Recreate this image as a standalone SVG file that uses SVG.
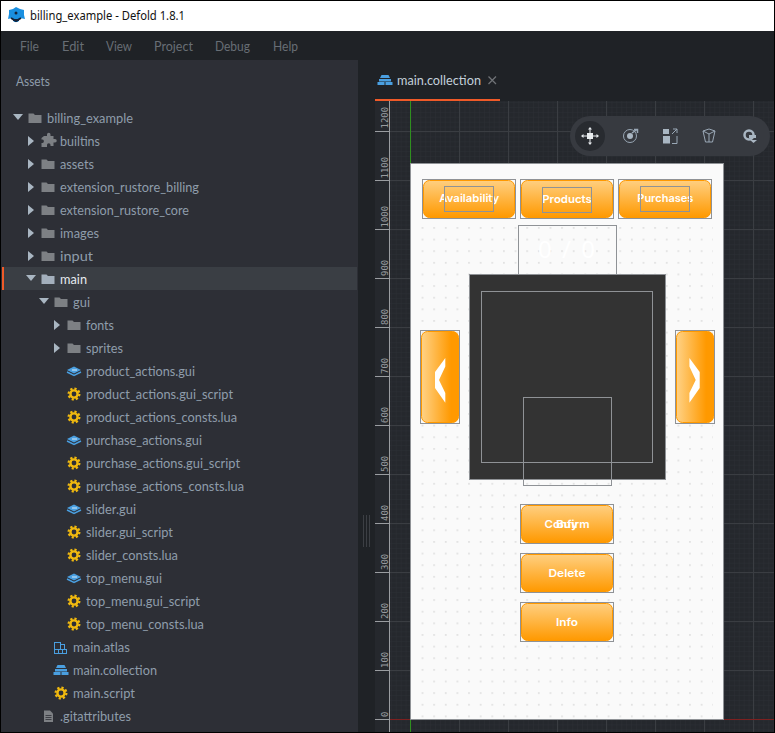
<svg xmlns="http://www.w3.org/2000/svg" xmlns:xlink="http://www.w3.org/1999/xlink" width="775" height="733" viewBox="0 0 775 733">
<style>
.t{font-family:"Lato","Noto Sans",sans-serif;font-size:13px;fill:#8f9dab}
.m{font-family:"Lato","Noto Sans",sans-serif;font-size:13px;fill:#686e75}
.r{font-family:"DejaVu Sans Mono","Liberation Mono",monospace;font-size:9px;fill:#989b9f}
.b{font-family:"Inter","Noto Sans",sans-serif;font-size:11px;font-weight:600;fill:#fff;text-anchor:middle}
.o{fill:none;stroke:#8f9296;stroke-width:1}
.h{fill:url(#gv);stroke:#ff9900;stroke-width:1}
.mj{stroke:#3a3d42;stroke-width:1}
.tk{stroke:#9a9da1;stroke-width:1}
.tr{fill:#a9b6c2}
.ic{fill:#a9b6c2}
</style>
<defs>
<linearGradient id="gv" x1="0" y1="0" x2="0" y2="1"><stop offset="0" stop-color="#ffcf80"/><stop offset="1" stop-color="#ff9900"/></linearGradient>
<linearGradient id="gh" x1="0" y1="0" x2="1" y2="0"><stop offset="0" stop-color="#ffd286"/><stop offset="0.8" stop-color="#ff9900"/><stop offset="1" stop-color="#ff9900"/></linearGradient>
<pattern id="minor" x="410.5" y="719.5" width="4.9" height="4.9" patternUnits="userSpaceOnUse"><path d="M0 0H4.9M0 0V4.9" stroke="#2c2f35" stroke-width="1" fill="none"/></pattern>
<pattern id="dots" x="421.6" y="227" width="11.63" height="11.63" patternUnits="userSpaceOnUse"><rect x="0.2" y="0.2" width="1.4" height="1.4" fill="#d2d2d2"/></pattern>
<g id="fold"><path d="M-6.5 -4.5H-1.5L0 -3H6.5V5H-6.5Z" fill="#7d8084"/></g>
<g id="foldOn"><path d="M-6.5 -4.5H-1.5L0 -3H6.5V5H-6.5Z" fill="#a3afbc"/></g>
<path id="tri" d="M-3 -5L3 0L-3 5Z" class="tr"/>
<path id="triD" d="M-5 -3H5L0 3Z" class="tr"/>
<g id="gear"><circle r="3.6" fill="none" stroke="#f0b90f" stroke-width="2.4"/><circle r="5.4" fill="none" stroke="#f0b90f" stroke-width="2.2" stroke-dasharray="2.2 2"/></g>
<g id="guiI"><path d="M0 -4.5L7 -1L0 2.5L-7 -1Z" fill="#4a9fe0"/><path d="M-7 1L0 4.5L7 1" fill="none" stroke="#4a9fe0" stroke-width="1.4"/><path d="M-2 -1H3" stroke="#fff" stroke-width="0.8"/></g>
<g id="coll" fill="#4a9fe0"><path d="M-3.5 -5H3.5L5 -2H-5Z"/><rect x="-6" y="-1" width="12" height="2.5"/><rect x="-7.5" y="2" width="7" height="3"/><rect x="0.5" y="2" width="7" height="3"/></g>
<g id="btnH"><rect x="1.5" y="1.5" width="91" height="37" rx="6" class="h"/></g>
</defs>
<rect width="775" height="733" fill="#000"/>
<rect x="1" y="1" width="773" height="30" fill="#fff"/>
<rect x="1" y="31" width="773" height="29" fill="#1f2226"/>
<rect x="1" y="60" width="357" height="672" fill="#2d2f36"/>
<rect x="358" y="60" width="416" height="672" fill="#1f2226"/>
<rect x="375" y="101" width="399" height="631" fill="#25282d"/>
<rect x="389" y="101" width="385" height="631" fill="url(#minor)"/>
<rect x="363" y="515" width="1" height="32" fill="#3c3f44"/><rect x="366" y="515" width="1" height="32" fill="#3c3f44"/><rect x="369" y="515" width="1" height="32" fill="#3c3f44"/>

<g id="logo"><path d="M16 7L20 9L24 10L24 15L25 19L20 18L18 22L14 22L12 18L8 19L9 14L9 10L13 9Z" fill="#1a8fe0"/><path d="M11 18L16 21L21 18M13 20L19 20" stroke="#14233a" stroke-width="2" fill="none"/><circle cx="16" cy="13" r="1.5" fill="#14233a"/></g>
<text x="30" y="20" font-family="Noto Sans,sans-serif" font-size="12" fill="#111" textLength="155" lengthAdjust="spacingAndGlyphs">billing_example - Defold 1.8.1</text>

<g id="menu">
<text class="m" x="20" y="51" textLength="19" lengthAdjust="spacingAndGlyphs">File</text>
<text class="m" x="62" y="51" textLength="22" lengthAdjust="spacingAndGlyphs">Edit</text>
<text class="m" x="106" y="51" textLength="26" lengthAdjust="spacingAndGlyphs">View</text>
<text class="m" x="154" y="51" textLength="39" lengthAdjust="spacingAndGlyphs">Project</text>
<text class="m" x="215" y="51" textLength="35" lengthAdjust="spacingAndGlyphs">Debug</text>
<text class="m" x="273" y="51" textLength="25" lengthAdjust="spacingAndGlyphs">Help</text>
</g>

<g id="assets">
<text class="t" x="16" y="86" textLength="34" lengthAdjust="spacingAndGlyphs">Assets</text>
<rect x="2" y="267" width="355" height="23" fill="#3a3e44"/><rect x="2" y="267" width="2" height="23" fill="#f05a28"/>
<use href="#triD" x="18" y="117"/><use href="#fold" x="35" y="118"/>
<text class="t" x="47" y="123" textLength="86" lengthAdjust="spacingAndGlyphs">billing_example</text>
<use href="#tri" x="31" y="141"/>
<path d="M44 136h3v-1.500a1.700 1.700 0 0 1 3.500 0V136h3v3h1.500a1.700 1.700 0 0 1 0 3.500H53.500v3.500h-3v-1a1.700 1.700 0 0 0 -3.500 0v2h-5.500v-4h1a1.800 1.800 0 0 0 0 -3.500h-1V138Z" fill="#7d8084"/>
<text class="t" x="60" y="146" textLength="40" lengthAdjust="spacingAndGlyphs">builtins</text>
<use href="#tri" x="31" y="164"/><use href="#fold" x="48" y="164"/>
<text class="t" x="60" y="169" textLength="34" lengthAdjust="spacingAndGlyphs">assets</text>
<use href="#tri" x="31" y="187"/><use href="#fold" x="48" y="187"/>
<text class="t" x="60" y="192" textLength="139" lengthAdjust="spacingAndGlyphs">extension_rustore_billing</text>
<use href="#tri" x="31" y="210"/><use href="#fold" x="48" y="210"/>
<text class="t" x="60" y="215" textLength="129" lengthAdjust="spacingAndGlyphs">extension_rustore_core</text>
<use href="#tri" x="31" y="233"/><use href="#fold" x="48" y="233"/>
<text class="t" x="60" y="238" textLength="39" lengthAdjust="spacingAndGlyphs">images</text>
<use href="#tri" x="31" y="256"/><use href="#fold" x="48" y="256"/>
<text class="t" x="60" y="261" textLength="33" lengthAdjust="spacingAndGlyphs">input</text>
<use href="#triD" x="31" y="278"/><use href="#foldOn" x="48" y="279"/>
<text class="t" x="60" y="284" textLength="27" lengthAdjust="spacingAndGlyphs" style="fill:#e6ebef">main</text>
<use href="#triD" x="44" y="301"/><use href="#fold" x="61" y="302"/>
<text class="t" x="73" y="307" textLength="17" lengthAdjust="spacingAndGlyphs">gui</text>
<use href="#tri" x="57" y="325"/><use href="#fold" x="74" y="325"/>
<text class="t" x="86" y="330" textLength="28" lengthAdjust="spacingAndGlyphs">fonts</text>
<use href="#tri" x="57" y="348"/><use href="#fold" x="74" y="348"/>
<text class="t" x="86" y="353" textLength="37" lengthAdjust="spacingAndGlyphs">sprites</text>
<use href="#guiI" x="74" y="371"/>
<text class="t" x="86" y="376" textLength="109" lengthAdjust="spacingAndGlyphs">product_actions.gui</text>
<use href="#gear" x="74" y="394"/>
<text class="t" x="86" y="399" textLength="147" lengthAdjust="spacingAndGlyphs">product_actions.gui_script</text>
<use href="#gear" x="74" y="417"/>
<text class="t" x="86" y="422" textLength="151" lengthAdjust="spacingAndGlyphs">product_actions_consts.lua</text>
<use href="#guiI" x="74" y="440"/>
<text class="t" x="86" y="445" textLength="116" lengthAdjust="spacingAndGlyphs">purchase_actions.gui</text>
<use href="#gear" x="74" y="463"/>
<text class="t" x="86" y="468" textLength="154" lengthAdjust="spacingAndGlyphs">purchase_actions.gui_script</text>
<use href="#gear" x="74" y="486"/>
<text class="t" x="86" y="491" textLength="158" lengthAdjust="spacingAndGlyphs">purchase_actions_consts.lua</text>
<use href="#guiI" x="74" y="509"/>
<text class="t" x="86" y="514" textLength="50" lengthAdjust="spacingAndGlyphs">slider.gui</text>
<use href="#gear" x="74" y="532"/>
<text class="t" x="86" y="537" textLength="87" lengthAdjust="spacingAndGlyphs">slider.gui_script</text>
<use href="#gear" x="74" y="555"/>
<text class="t" x="86" y="560" textLength="92" lengthAdjust="spacingAndGlyphs">slider_consts.lua</text>
<use href="#guiI" x="74" y="578"/>
<text class="t" x="86" y="583" textLength="76" lengthAdjust="spacingAndGlyphs">top_menu.gui</text>
<use href="#gear" x="74" y="601"/>
<text class="t" x="86" y="606" textLength="114" lengthAdjust="spacingAndGlyphs">top_menu.gui_script</text>
<use href="#gear" x="74" y="624"/>
<text class="t" x="86" y="629" textLength="118" lengthAdjust="spacingAndGlyphs">top_menu_consts.lua</text>
<g fill="none" stroke="#4a9fe0" stroke-width="1"><rect x="54.500" y="642.500" width="6" height="7"/><rect x="60.500" y="644.500" width="4" height="5"/><rect x="54.500" y="649.500" width="4" height="4"/><rect x="58.500" y="649.500" width="4" height="4"/><rect x="62.500" y="649.500" width="4" height="4"/></g>
<text class="t" x="73" y="652" textLength="57" lengthAdjust="spacingAndGlyphs">main.atlas</text>
<use href="#coll" x="61" y="670"/>
<text class="t" x="73" y="675" textLength="84" lengthAdjust="spacingAndGlyphs">main.collection</text>
<use href="#gear" x="61" y="693"/>
<text class="t" x="73" y="698" textLength="62" lengthAdjust="spacingAndGlyphs">main.script</text>
<path d="M44 710.500h6l3 3v8.500h-9Z" fill="#7d8084"/><path d="M45.500 715.500h6M45.500 717.500h6M45.500 719.500h6" stroke="#2d2f36" stroke-width="0.800"/>
<text class="t" x="60" y="721" textLength="71" lengthAdjust="spacingAndGlyphs">.gitattributes</text>
</g>

<g id="tab">
<use href="#coll" x="385" y="80"/>
<text class="t" x="397" y="85" textLength="84" lengthAdjust="spacingAndGlyphs" style="fill:#c3d0da">main.collection</text>
<path d="M488.500 76.500L496 84M496 76.500L488.500 84" stroke="#6f7276" stroke-width="1.300"/>
<rect x="375" y="99" width="125" height="2" fill="#f05a28"/>
</g>

<g id="grid">
<path class="mj" d="M459.500 101V732M508.500 101V732M557.500 101V732M606.500 101V732M655.500 101V732M704.500 101V732M753.500 101V732M389 131.500H774M389 180.500H774M389 229.500H774M389 278.500H774M389 327.500H774M389 376.500H774M389 425.500H774M389 474.500H774M389 523.500H774M389 572.500H774M389 621.500H774M389 670.500H774"/>
<path d="M410.500 101V732" stroke="#2f8f1f" stroke-width="1"/>
<path d="M389 719.500H774" stroke="#7d2020" stroke-width="1"/>
</g>

<g id="ruler">
<path class="tk" d="M389.500 101V732M375 131.500H389M375 180.500H389M375 229.500H389M375 278.500H389M375 327.500H389M375 376.500H389M375 425.500H389M375 474.500H389M375 523.500H389M375 572.500H389M375 621.500H389M375 670.500H389M375 719.500H389"/>
<text class="r" transform="translate(387.500 128.500) rotate(-90)">1200</text>
<text class="r" transform="translate(387.500 178.500) rotate(-90)">1100</text>
<text class="r" transform="translate(387.500 227.500) rotate(-90)">1000</text>
<text class="r" transform="translate(387.500 276) rotate(-90)">900</text>
<text class="r" transform="translate(387.500 325) rotate(-90)">800</text>
<text class="r" transform="translate(387.500 374) rotate(-90)">700</text>
<text class="r" transform="translate(387.500 423) rotate(-90)">600</text>
<text class="r" transform="translate(387.500 472) rotate(-90)">500</text>
<text class="r" transform="translate(387.500 521) rotate(-90)">400</text>
<text class="r" transform="translate(387.500 570) rotate(-90)">300</text>
<text class="r" transform="translate(387.500 619) rotate(-90)">200</text>
<text class="r" transform="translate(387.500 668) rotate(-90)">100</text>
<text class="r" transform="translate(387.500 717) rotate(-90)">0</text>
</g>

<g id="canvas">
<rect x="410.500" y="163.500" width="313" height="556" fill="#fafafa" stroke="#8f9296"/>
<rect x="421" y="226" width="292" height="492" fill="url(#dots)"/>
</g>

<g id="toolbar">
<rect x="570" y="116" width="200" height="40" rx="20" fill="#373a40"/>
<circle cx="590" cy="136" r="15" fill="#282b30"/>
<rect x="587" y="133" width="6" height="6" fill="#e8ecef"/>
<path d="M590 129V143M583 136H597" stroke="#e8ecef" stroke-width="1"/>
<path d="M590 127l2 2.500h-4ZM590 145l2 -2.500h-4ZM581 136l2.500 2v-4ZM599 136l-2.500 2v-4Z" fill="#e8ecef"/>
<circle cx="630" cy="136" r="6.500" fill="none" stroke="#9aa8b6" stroke-width="1"/><circle cx="630" cy="136" r="3" class="ic"/><path d="M632 133L637 129.500M634 129.500h3.500v3.500" stroke="#9aa8b6" stroke-width="1.500" fill="none"/>
<rect x="663" y="136" width="7" height="7.500" class="ic"/><rect x="663" y="129" width="6" height="5" class="ic"/><path d="M673 129h4v4M672 134l5 -5M677 136v7.500h-5" stroke="#9aa8b6" stroke-width="1" fill="none"/>
<path d="M703 131L709 129L715 131L712.500 142H705.500Z M703 131L709 134L715 131M709 134V142" fill="none" stroke="#9aa8b6" stroke-width="1"/>
<circle cx="749" cy="135" r="4.500" fill="none" stroke="#a9b6c2" stroke-width="2.500"/><path d="M749 135h7v3h-7Z" class="ic"/><path d="M750 140h7l-3.500 3Z" class="ic"/>
</g>

<g id="slider">
<rect x="518.500" y="225.500" width="98" height="49" class="o"/>
<text x="567.500" y="258" font-family="Noto Sans,sans-serif" font-size="24" fill="#fff" text-anchor="middle" letter-spacing="2">0 / 0</text>
<rect x="469.500" y="274.500" width="196" height="205" fill="#333" stroke="#8f9296"/>
<rect x="481.500" y="291.500" width="171" height="171" class="o"/>
<rect x="523.500" y="397.500" width="88" height="88" class="o"/>
</g>

<g id="availability" transform="translate(422 179)"><use href="#btnH"/><rect x="0.500" y="0.500" width="93" height="39" class="o"/></g>
<text class="b" x="469.300" y="202" textLength="60" lengthAdjust="spacingAndGlyphs">Availability</text>
<rect x="444.500" y="186.500" width="49" height="25" class="o"/>
<g id="products" transform="translate(520 179)"><use href="#btnH"/><rect x="0.500" y="0.500" width="93" height="39" class="o"/></g>
<text class="b" x="567" y="203" textLength="49.500" lengthAdjust="spacingAndGlyphs">Products</text>
<rect x="542.500" y="187.500" width="49" height="25" class="o"/>
<g id="purchases" transform="translate(618 179)"><use href="#btnH"/><rect x="0.500" y="0.500" width="93" height="39" class="o"/></g>
<text class="b" x="665.300" y="202" textLength="56" lengthAdjust="spacingAndGlyphs">Purchases</text>
<rect x="640.500" y="186.500" width="49" height="25" class="o"/>

<g id="prev">
<rect x="421.500" y="331.500" width="37" height="91" rx="6" fill="url(#gh)" stroke="#ff9900"/>
<rect x="420.500" y="330.500" width="39" height="93" class="o"/>
<path d="M445.300 358V366.500L439 380L445.300 393V402.700L435 388V372Z" fill="#fff"/>
</g>
<g id="next">
<rect x="676.500" y="331.500" width="37" height="91" rx="6" fill="url(#gh)" stroke="#ff9900"/>
<rect x="675.500" y="330.500" width="39" height="93" class="o"/>
<path d="M689.400 358V366.500L695.700 380L689.400 393V402.700L699.700 388V372Z" fill="#fff"/>
</g>

<g id="confirm" transform="translate(520 504)"><use href="#btnH"/><rect x="0.500" y="0.500" width="93" height="39" class="o"/></g>
<text class="b" x="567" y="527.500" textLength="45" lengthAdjust="spacingAndGlyphs">Confirm</text>
<text class="b" x="567" y="527.500" textLength="22" lengthAdjust="spacingAndGlyphs">Buy</text>
<g id="delete" transform="translate(520 553)"><use href="#btnH"/><rect x="0.500" y="0.500" width="93" height="39" class="o"/></g>
<text class="b" x="567" y="576.500" textLength="37" lengthAdjust="spacingAndGlyphs">Delete</text>
<g id="info" transform="translate(520 602)"><use href="#btnH"/><rect x="0.500" y="0.500" width="93" height="39" class="o"/></g>
<text class="b" x="567" y="625.500" textLength="22" lengthAdjust="spacingAndGlyphs">Info</text>
</svg>
